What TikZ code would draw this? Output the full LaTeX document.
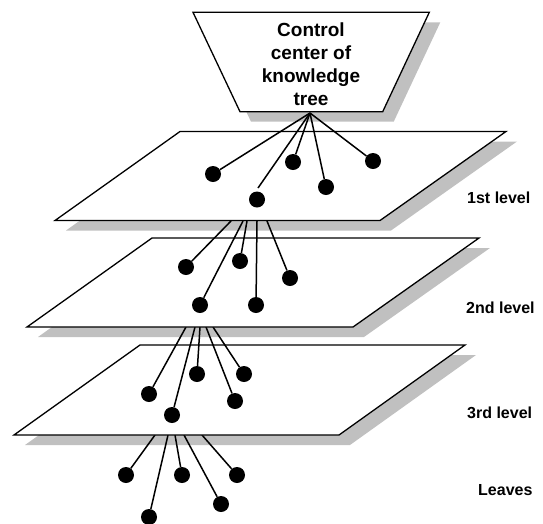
\documentclass[tikz,border=0pt]{standalone}
\usepackage{fontspec}
\setmainfont{Liberation Sans}
\usetikzlibrary{calc}
\definecolor{shadowgray}{RGB}{192,192,192}
\begin{document}
\begin{tikzpicture}[x=1pt,y=-1pt,
  plane/.style={draw=black,fill=white,line width=1.3pt,line join=miter},
  shade/.style={fill=shadowgray},
  dot/.style={circle,fill=black,minimum size=16pt,inner sep=0pt},
  link/.style={draw=black,line width=1.5pt},
  lvl/.style={font=\bfseries\fontsize{16}{19}\selectfont,anchor=base west,inner sep=0pt}]
\useasboundingbox (0,0) rectangle (543,523);

% ---------- 3rd level plane and leaves ----------
\fill[shade,shift={(11,10)}] (140,345) -- (465,345) -- (339,435) -- (14,435) -- cycle;
\coordinate (s31) at (155,435);
\coordinate (s32) at (168,435);
\coordinate (s33) at (175,435);
\coordinate (s34) at (184,435);
\coordinate (s35) at (202,435);
\node[dot] (l1) at (126,475) {};
\node[dot] (l2) at (149,517) {};
\node[dot] (l3) at (182,475) {};
\node[dot] (l4) at (221,504) {};
\node[dot] (l5) at (237,475) {};
\draw[link] (s31) -- (l1);
\draw[link] (s32) -- (l2);
\draw[link] (s33) -- (l3);
\draw[link] (s34) -- (l4);
\draw[link] (s35) -- (l5);
\draw[plane] (140,345) -- (465,345) -- (339,435) -- (14,435) -- cycle;

% ---------- 2nd level plane ----------
\fill[shade,shift={(11,10)}] (152,238) -- (479,238) -- (353,327) -- (27,327) -- cycle;
\coordinate (s21) at (186,327);
\coordinate (s22) at (195,327);
\coordinate (s23) at (200,327);
\coordinate (s24) at (206,327);
\coordinate (s25) at (213,327);
\node[dot] (c1) at (149,394) {};
\node[dot] (c2) at (172,415) {};
\node[dot] (c3) at (197,374) {};
\node[dot] (c4) at (235,401) {};
\node[dot] (c5) at (244,374) {};
\draw[link] (s21) -- (c1);
\draw[link] (s22) -- (c2);
\draw[link] (s23) -- (c3);
\draw[link] (s24) -- (c4);
\draw[link] (s25) -- (c5);
\draw[plane] (152,238) -- (479,238) -- (353,327) -- (27,327) -- cycle;

% ---------- 1st level plane ----------
\fill[shade,shift={(11,10)}] (180,131.5) -- (506,131.5) -- (380,220.5) -- (55,220.5) -- cycle;
\coordinate (s11) at (231,221);
\coordinate (s12) at (243,221);
\coordinate (s13) at (247,221);
\coordinate (s14) at (257,221);
\coordinate (s15) at (267,221);
\node[dot] (b1) at (186,267) {};
\node[dot] (b2) at (200,305) {};
\node[dot] (b3) at (240,261) {};
\node[dot] (b4) at (256,305) {};
\node[dot] (b5) at (290,278) {};
\draw[link] (s11) -- (b1);
\draw[link] (s12) -- (b2);
\draw[link] (s13) -- (b3);
\draw[link] (s14) -- (b4);
\draw[link] (s15) -- (b5);
\draw[plane] (180,131.5) -- (506,131.5) -- (380,220.5) -- (55,220.5) -- cycle;

% ---------- control center ----------
\fill[shade,shift={(11,10)}] (193,12.3) -- (429.3,12.3) -- (382.7,111.7) -- (240,111.7) -- cycle;
\coordinate (apex) at (310,113);
\coordinate (short) at (258,188);
\node[dot] (a1) at (213,174) {};
\node[dot] (a2) at (293,162) {};
\node[dot] (a3) at (373,161) {};
\node[dot] (a4) at (326,187) {};
\node[dot] (a5) at (257,199.5) {};
\draw[link] (apex) -- (a1);
\draw[link] (apex) -- (a2);
\draw[link] (apex) -- (a3);
\draw[link] (apex) -- (a4);
\draw[link] (apex) -- (short);
\draw[plane] (193,12.3) -- (429.3,12.3) -- (382.7,111.7) -- (240,111.7) -- cycle;
\node[font=\bfseries\fontsize{19}{23}\selectfont,align=center,inner sep=0pt] (ctrl) at (311,63.8) {Control\\center of\\knowledge\\tree};

% ---------- labels ----------
\node[lvl] (t1) at (467,203) {1st level};
\node[lvl] (t2) at (466,313) {2nd level};
\node[lvl] (t3) at (467,418) {3rd level};
\node[lvl] (t4) at (478,495) {Leaves};
\end{tikzpicture}
\end{document}
